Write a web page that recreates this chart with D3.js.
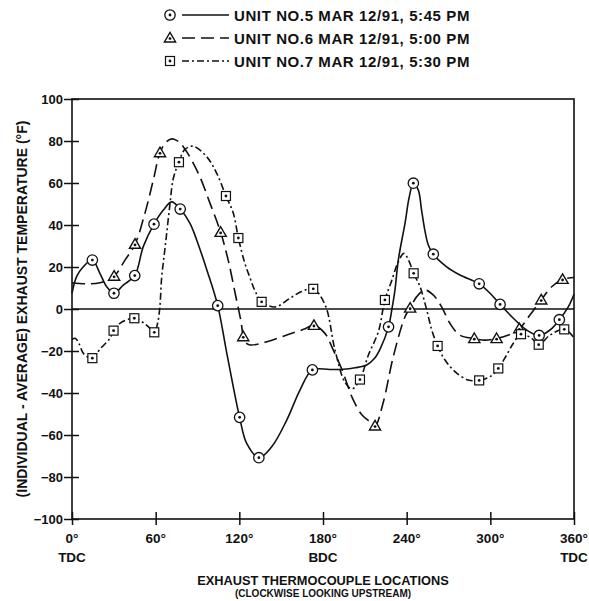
<!DOCTYPE html>
<html>
<head>
<meta charset="utf-8">
<script src="https://cdn.jsdelivr.net/npm/d3@7"></script>
<style>
  body { margin: 0; background: #fff; }
  text { font-family: "Liberation Sans", Arial, sans-serif; fill: #111; }
</style>
</head>
<body>
<svg id="chart" width="589" height="601"></svg>
<script>
// tick labels
var xTicks = [0, 60, 120, 180, 240, 300, 360]
var xSubLabels = ["TDC", "", "", "BDC", "", "", "TDC"]
var yTicks = [100, 80, 60, 40, 20, 0, -20, -40, -60, -80, -100]

var legendLabels = [
    "UNIT NO.5  MAR 12/91, 5:45 PM",
    "UNIT NO.6  MAR 12/91, 5:00 PM",
    "UNIT NO.7  MAR 12/91, 5:30 PM"
]

// measured readings (degrees, deg F) - the marker symbols
var unit5Points = [[14.6, 23.3], [30.1, 7.5], [45, 15.9], [58.8, 40.4], [77.6, 47.6], [104.5, 1.6],
    [120.2, -51.6], [134, -70.8], [172.4, -29], [227, -8.5], [244.8, 59.9], [259.1, 26.1],
    [292, 12], [307, 2.2], [335, -12.6], [349.5, -5.1]]
var unit6Points = [[30.2, 15.6], [45.2, 30.8], [63.1, 74.4], [106.6, 36.5], [122.8, -13.2],
    [173.5, -7.8], [217.3, -55.7], [242.5, 0.4], [288.5, -14.1], [304.5, -14.1], [320.8, -9.4],
    [336.5, 4.3], [351.8, 14.1]]
var unit7Points = [[14.6, -23.4], [29.8, -10.3], [44.7, -4.4], [59, -11.1], [76.7, 69.9],
    [110.4, 53.8], [119.3, 33.8], [136, 3.4], [173, 9.6], [206.5, -33.6], [224.4, 4.3],
    [245, 17], [262.2, -17.6], [292, -34], [305.7, -28.3], [322, -12], [334.7, -17], [353, -9.7]]

// hand drawn fair curves
var unit5Curve = [[0, 7.5], [3.3, 15.4], [8.1, 20.1], [14.6, 23.3], [20, 17], [24.9, 10.6],
    [30.1, 7.5], [36.8, 11.4], [45, 15.9], [51.1, 29.7], [58.8, 40.4], [65.5, 47.1], [71.5, 51],
    [77.6, 47.6], [84.6, 40.8], [89.4, 32.9], [97, 18], [104.5, 1.6], [111, -21], [120.2, -51.6],
    [125.3, -64], [134, -70.8], [143.2, -65.6], [154, -52.9], [163.5, -38.6], [172.4, -29],
    [185, -28.8], [194.6, -28.7], [203, -28], [211.3, -26.7], [217, -23.5], [221, -19],
    [227, -8.5], [229.3, -0.5], [231.6, 9], [234, 23.3], [238.8, 40.8], [241.9, 53.5],
    [244.8, 59.9], [248.3, 56.7], [250.7, 47], [253, 37.6], [255.5, 30.5], [259.1, 26.1],
    [268.7, 20.1], [278.2, 16.2], [292, 12], [299.8, 7.5], [307, 2.2], [316.5, -4.4],
    [326, -10], [335, -12.6], [342.8, -10], [349.5, -5.1], [356, 1.1], [360, 7]]
var unit6Curve = [[0, 12.5], [10, 12], [20, 12.5], [30.2, 15.6], [38, 23.3], [45.2, 30.8],
    [52.3, 45.6], [58.3, 61.4], [63.1, 74.4], [67.5, 79.5], [71.5, 81], [75, 80.3], [79.8, 77.3],
    [90.6, 64.6], [99, 50.3], [106.6, 36.5], [112, 23.3], [117, 7.5], [121, -5.2], [124, -15.5],
    [127.6, -17.1], [139.7, -15.6], [154, -12.4], [166, -9.7], [173.5, -7.8], [181.4, -11.6],
    [187, -19], [193.5, -28.7], [201.7, -43.3], [208, -50.5], [213.7, -53.7], [217.3, -55.7],
    [223, -45], [230.4, -22.7], [238.8, -3.7], [242.5, 0.4], [247.2, 5.9], [253, 9], [259, 6.7],
    [265, 1.1], [271, -6.8], [278, -12.4], [288.5, -14.1], [296, -14.8], [304.5, -14.1],
    [313, -12.4], [320.8, -9.4], [328.4, -2.9], [336.5, 4.3], [344, 10.6], [351.8, 14.1], [360, 15]]
var unit7Curve = [[0, -14.5], [2.5, -14], [5, -16.5], [8, -21], [11.5, -23], [14.6, -23.4],
    [20.6, -18.7], [27.2, -14], [29.8, -10.3], [34.4, -6.8], [40, -5], [44.7, -4.4], [50, -6],
    [54.7, -8.4], [59, -11.1], [61.4, -6.8], [63, 1], [64.3, 15], [66, 25], [67.9, 36],
    [70.3, 50.3], [72.6, 62], [76.7, 70], [81, 76], [87, 77.5], [96.6, 72.5], [103.8, 64.6],
    [110.4, 53.8], [115.7, 45.6], [119.3, 33.8], [124, 21.7], [127.6, 15], [131, 9], [136, 3.4],
    [141, 1.5], [146.8, 1.1], [156.3, 5.1], [164.7, 8.3], [173, 9.6], [181.5, 2], [188.6, -19.5],
    [195.8, -35], [201, -38], [206.5, -33.6], [212.5, -22], [219.7, -10.8], [224.4, 4.3],
    [229, 13], [234, 22.5], [238, 26.5], [241.5, 23], [245, 17], [249.6, 10.6], [254.4, -0.5],
    [258, -10], [262.2, -17.6], [267.5, -24.3], [274.6, -29.8], [284, -33.8], [292, -34],
    [299.8, -32.2], [305.7, -28.3], [311.7, -21.9], [316.5, -16.3], [322, -12], [329.7, -14],
    [334.7, -17], [342.8, -12.4], [353, -9.7], [359.4, -13.2], [360, -14]]

function drawChart() {
    var svg = d3.select("#chart"),
        margin = { top: 99, right: 15, bottom: 82, left: 72 },
        width = +svg.attr("width") - margin.left - margin.right,
        height = +svg.attr("height") - margin.top - margin.bottom

    svg.append("rect").attr("width", 589).attr("height", 601).attr("fill", "#fff")

    var g = svg.append("g").attr("transform", translate(margin.left, margin.top))

    var x = d3.scaleLinear().domain([0, 360]).range([0, width])
    var y = d3.scaleLinear().domain([-100, 100]).range([height, 0])

    var ink = "#111"

    // frame + zero line
    g.append("rect")
        .attr("width", width).attr("height", height)
        .attr("fill", "none").attr("stroke", ink).attr("stroke-width", 1.6)
    g.append("line")
        .attr("x1", 0).attr("x2", width)
        .attr("y1", y(0)).attr("y2", y(0))
        .attr("stroke", ink).attr("stroke-width", 1.5)

    // y axis
    var yAxis = g.append("g")
        .attr("class", "y axis")
        .call(d3.axisLeft(y).tickValues(yTicks).tickSize(8).tickPadding(3))
    yAxis.select(".domain").remove()
    yAxis.selectAll("line").attr("stroke", ink).attr("stroke-width", 1.5).attr("x2", 7).attr("x1", -8)
    yAxis.selectAll("text")
        .attr("x", -9)
        .style("font-size", "13px").style("font-weight", "bold")

    // x axis
    var xAxis = g.append("g")
        .attr("class", "x axis")
        .attr("transform", translate(0, height))
        .call(d3.axisBottom(x).tickValues(xTicks).tickSize(6).tickFormat(""))
    xAxis.select(".domain").remove()
    xAxis.selectAll("line").attr("stroke", ink).attr("stroke-width", 1.5).attr("y1", -7).attr("y2", 6)

    xTicks.forEach(function (t, i) {
        g.append("text")
            .attr("x", x(t)).attr("y", height + 24)
            .attr("text-anchor", "middle")
            .style("font-size", "13.5px").style("font-weight", "bold")
            .text(t + "°")
        if (xSubLabels[i]) {
            g.append("text")
                .attr("x", x(t)).attr("y", height + 43)
                .attr("text-anchor", "middle")
                .style("font-size", "13.5px").style("font-weight", "bold")
                .text(xSubLabels[i])
        }
    })

    svg.append("text")
        .attr("x", margin.left + width / 2).attr("y", 585)
        .attr("text-anchor", "middle")
        .style("font-size", "12.8px").style("font-weight", "bold")
        .text("EXHAUST THERMOCOUPLE LOCATIONS")
    svg.append("text")
        .attr("x", margin.left + width / 2).attr("y", 597)
        .attr("text-anchor", "middle")
        .style("font-size", "10px").style("font-weight", "bold")
        .text("(CLOCKWISE LOOKING UPSTREAM)")

    svg.append("text")
        .attr("transform", translate(27, margin.top + height / 2) + " rotate(-90)")
        .attr("text-anchor", "middle")
        .style("font-size", "14px").style("font-weight", "bold")
        .text("(INDIVIDUAL - AVERAGE) EXHAUST TEMPERATURE (°F)")

    // curves
    var line = d3.line()
        .x(function (d) { return x(d[0]) })
        .y(function (d) { return y(d[1]) })
        .curve(d3.curveCatmullRom.alpha(0.5))

    var series = [
        { curve: unit5Curve, points: unit5Points, dash: null, marker: "circle" },
        { curve: unit6Curve, points: unit6Points, dash: "13,6", marker: "triangle" },
        { curve: unit7Curve, points: unit7Points, dash: "7,3,2,3", marker: "square" }
    ]

    series.forEach(function (s) {
        g.append("path")
            .datum(s.curve)
            .attr("fill", "none")
            .attr("stroke", ink)
            .attr("stroke-width", 1.6)
            .attr("stroke-dasharray", s.dash)
            .attr("d", line)
    })

    series.forEach(function (s) {
        g.selectAll(".m-" + s.marker)
            .data(s.points)
            .enter().append("g")
            .attr("class", "m-" + s.marker)
            .attr("transform", function (d) { return translate(x(d[0]), y(d[1])) })
            .each(function () { drawMarker(d3.select(this), s.marker) })
    })

    function drawMarker(sel, kind) {
        if (kind == "circle") {
            sel.append("circle").attr("r", 5.2).attr("fill", "#fff").attr("stroke", ink).attr("stroke-width", 1.3)
            sel.append("circle").attr("r", 1.4).attr("fill", ink)
        } else if (kind == "triangle") {
            sel.append("path").attr("d", "M0,-5.6L5.6,4L-5.6,4Z")
                .attr("fill", "#fff").attr("stroke", ink).attr("stroke-width", 1.4)
            sel.append("circle").attr("cy", 0.6).attr("r", 1.4).attr("fill", ink)
        } else {
            sel.append("rect").attr("x", -4.5).attr("y", -4.5).attr("width", 9).attr("height", 9)
                .attr("fill", "#fff").attr("stroke", ink).attr("stroke-width", 1.2)
            sel.append("circle").attr("r", 1.4).attr("fill", ink)
        }
    }

    // legend
    var legend = svg.append("g").attr("class", "legend")
    legendLabels.forEach(function (label, i) {
        var ly = 15 + i * 23
        var s = series[i]
        legend.append("line")
            .attr("x1", 182).attr("x2", 229)
            .attr("y1", ly).attr("y2", ly)
            .attr("stroke", ink).attr("stroke-width", 1.6)
            .attr("stroke-dasharray", s.dash)
        var m = legend.append("g").attr("transform", translate(170, ly))
        drawMarker(m, s.marker)
        legend.append("text")
            .attr("x", 234).attr("y", ly + 5.5)
            .style("font-size", "15px").style("font-weight", "bold")
            .style("letter-spacing", "0.6px")
            .text(label)
    })

    function translate(x, y) {
        return "translate(" + x + "," + y + ")"
    }
}

drawChart()
</script>
</body>
</html>
